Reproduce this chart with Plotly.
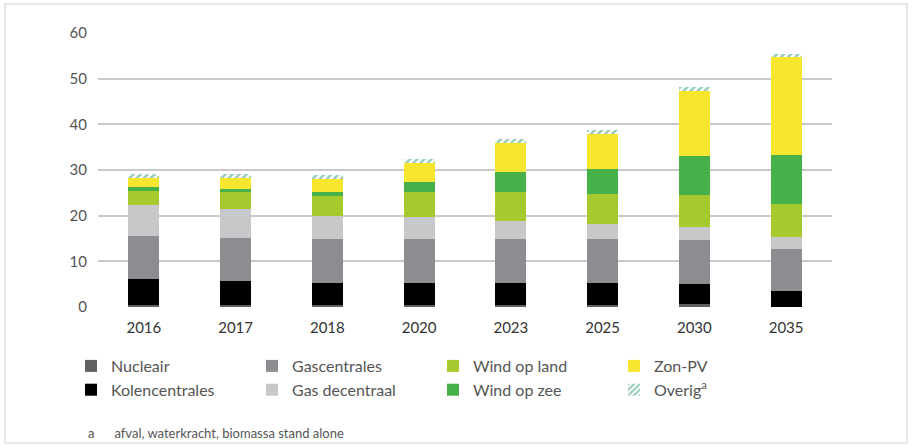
import plotly.graph_objects as go

# Jaren op de x-as
jaren = ["2016", "2017", "2018", "2020", "2023", "2025", "2030", "2035"]

# Productievermogen per bron (GW), gestapeld van onder naar boven
nucleair = [0.5, 0.5, 0.5, 0.5, 0.5, 0.5, 0.7, 0.0]
kolencentrales = [5.7, 5.2, 4.8, 4.8, 4.8, 4.8, 4.4, 3.6]
gascentrales = [9.3, 9.5, 9.5, 9.5, 9.5, 9.5, 9.5, 9.0]
gas_decentraal = [6.9, 6.2, 5.2, 4.8, 4.1, 3.3, 2.9, 2.7]
wind_op_land = [3.0, 3.7, 4.4, 5.5, 6.2, 6.6, 7.0, 7.3]
wind_op_zee = [0.8, 0.7, 0.7, 2.3, 4.5, 5.5, 8.5, 10.6]
zon_pv = [2.1, 2.4, 2.9, 4.1, 6.3, 7.7, 14.4, 21.5]
overig = [0.8, 0.9, 0.9, 0.9, 0.9, 0.9, 0.8, 0.8]

y_ticks = [0, 10, 20, 30, 40, 50, 60]

series = [
    ("Nucleair", nucleair, "#5f6062", 1),
    ("Kolencentrales", kolencentrales, "#000000", 5),
    ("Gascentrales", gascentrales, "#8b8d90", 2),
    ("Gas decentraal", gas_decentraal, "#c7c8ca", 6),
    ("Wind op land", wind_op_land, "#a6c92d", 3),
    ("Wind op zee", wind_op_zee, "#46b149", 7),
    ("Zon-PV", zon_pv, "#f6e630", 4),
]

fig = go.Figure()
for naam, waarden, kleur, rang in series:
    fig.add_trace(go.Bar(
        x=jaren, y=waarden, name=naam, legendrank=rang,
        marker=dict(color=kleur, line=dict(width=0)),
    ))

fig.add_trace(go.Bar(
    x=jaren, y=overig, name="Overig<sup>a</sup>", legendrank=8,
    marker=dict(
        color="#ffffff",
        line=dict(width=0),
        pattern=dict(shape="/", fgcolor="#2a9670", bgcolor="#ffffff",
                     size=5, solidity=0.5),
    ),
))

plot_l, plot_r, plot_t, plot_b = 98, 83, 33, 141
W, H = 915, 448
pw, ph = W - plot_l - plot_r, H - plot_t - plot_b

def px_x(x):
    return (x - plot_l) / pw

def px_y(y):
    return (H - plot_b - y) / ph

fig.update_layout(
    width=W, height=H,
    margin=dict(l=plot_l, r=plot_r, t=plot_t, b=plot_b),
    barmode="stack",
    bargap=0.66,
    plot_bgcolor="#ffffff",
    paper_bgcolor="#ffffff",
    font=dict(family="Lato, 'Open Sans', sans-serif", color="#555555", size=15),
    xaxis=dict(
        type="category", showgrid=False, zeroline=False, showline=False,
        ticks="", ticklabelstandoff=10, tickfont=dict(size=15, color="#333333"),
    ),
    yaxis=dict(
        range=[0, 60], tickvals=y_ticks, showgrid=True,
        gridcolor="#c9c9c9", gridwidth=1.5, zeroline=False, showline=False,
        ticks="", ticklabelstandoff=10, tickfont=dict(size=15, color="#555555"),
    ),
    legend=dict(
        orientation="h", traceorder="normal",
        x=px_x(71), xanchor="left", y=px_y(349), yanchor="top",
        entrywidth=136, entrywidthmode="pixels",
        font=dict(size=16, color="#555555"),
        bgcolor="rgba(0,0,0,0)",
    ),
    showlegend=True,
)

# Voetnoot bij "Overig"
fig.add_annotation(
    xref="paper", yref="paper", x=px_x(86), y=px_y(433),
    xanchor="left", yanchor="middle", showarrow=False,
    text="a&nbsp;&nbsp;&nbsp;&nbsp;&nbsp;&nbsp;afval, waterkracht, biomassa stand alone",
    font=dict(size=13, color="#555555"),
)

# Kader rond de figuur
fig.add_shape(
    type="rect", xref="paper", yref="paper",
    x0=px_x(5), x1=px_x(907), y0=px_y(443), y1=px_y(4),
    line=dict(color="#d4d4d4", width=1.2), fillcolor="rgba(0,0,0,0)", layer="below",
)

fig.write_html("out.html")
